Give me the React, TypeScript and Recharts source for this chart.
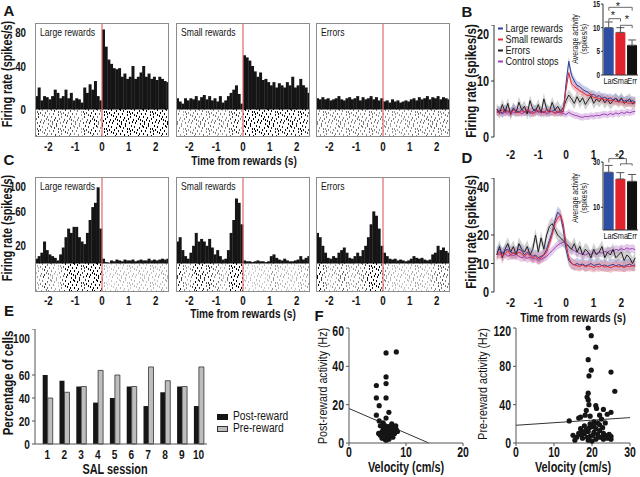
import React from "react";
import {
  Area,
  Bar,
  BarChart,
  Cell,
  ComposedChart,
  ErrorBar,
  Line,
  ReferenceLine,
  Scatter,
  ScatterChart,
  XAxis,
  YAxis,
} from "recharts";

const FONT = "'Liberation Sans Narrow', 'Arial Narrow', 'Liberation Sans', Arial, sans-serif";
const INK = "#151515";
const SQUEEZE = 0.82; // no narrow face installed, so squeeze the regular one
const SQUEEZE_BOLD = 0.75;

// ---------- A / C: peri-event histograms, 0.1 s bins from -2.5 to 2.5 s ----------
const timeTicks = [-2, -1, 0, 1, 2];
const binCentres = Array.from({ length: 50 }, (_, i) => Math.round((-2.45 + i * 0.1) * 100) / 100);

const largeA = [12, 20, 8, 12, 11, 9, 12, 18, 15, 10, 12, 18, 10, 15, 8, 10, 9, 6, 20, 15, 23, 18, 26, 12, 8,
  74, 58, 46, 42, 38, 37, 38, 30, 33, 28, 30, 40, 28, 30, 34, 40, 30, 33, 28, 30, 27, 30, 28, 26, 25];
const smallA = [10, 7, 5, 10, 8, 10, 9, 12, 8, 11, 13, 9, 12, 8, 10, 7, 12, 6, 8, 12, 15, 18, 22, 14, 5,
  50, 48, 45, 40, 35, 30, 34, 27, 28, 25, 22, 25, 20, 24, 22, 20, 25, 22, 30, 20, 22, 28, 22, 20, 15];
const errorsA = [10, 9, 11, 9, 10, 8, 9, 10, 12, 9, 8, 10, 11, 9, 10, 12, 8, 11, 9, 10, 12, 9, 11, 8, 10,
  7, 8, 6, 9, 7, 8, 6, 7, 8, 7, 9, 10, 8, 11, 9, 10, 12, 9, 11, 10, 12, 9, 11, 10, 9];

const largeC = [5, 8, 12, 25, 15, 10, 8, 6, 3, 10, 18, 30, 40, 35, 42, 42, 30, 25, 22, 35, 50, 65, 70, 88, 40,
  5, 1, 0, 3, 2, 4, 3, 2, 4, 3, 3, 4, 2, 3, 4, 3, 3, 5, 3, 4, 3, 4, 5, 4, 5];
const smallC = [25, 30, 15, 8, 5, 12, 20, 35, 25, 28, 25, 20, 28, 18, 10, 15, 8, 4, 5, 15, 35, 50, 75, 70, 45,
  3, 2, 2, 1, 2, 3, 2, 2, 1, 2, 8, 10, 6, 4, 3, 5, 3, 2, 2, 3, 4, 8, 4, 6, 8];
const errorsC = [35, 30, 20, 12, 6, 5, 8, 6, 12, 15, 18, 12, 6, 5, 8, 12, 8, 15, 20, 30, 45, 60, 55, 40, 20,
  12, 8, 5, 4, 5, 3, 4, 3, 2, 3, 5, 8, 6, 5, 6, 4, 3, 4, 10, 12, 20, 15, 18, 14, 12];

// ---------- B / D: population traces, 0.1 s steps from -2.5 to 2.5 s ----------
const traceTime = Array.from({ length: 51 }, (_, i) => Math.round((-2.5 + i * 0.1) * 10) / 10);

const largeB = [4.5, 4.8, 4.2, 5.0, 4.6, 4.3, 5.1, 4.7, 4.4, 4.9, 4.5, 4.8, 4.2, 4.6, 5.0, 4.4, 4.7, 4.3, 4.9, 4.5, 4.6, 4.8, 4.4, 4.7, 4.5,
  9.5, 13.5, 11, 10, 9.2, 9, 8.5, 8.2, 8.0, 7.5, 7.6, 7.2, 7.4, 6.9, 7.1, 6.8, 7.0, 6.6, 6.9, 6.5, 6.7, 6.4, 6.6, 6.3, 6.5, 6.2];
const smallB = [4.6, 4.3, 4.9, 4.4, 4.7, 4.2, 4.8, 4.5, 4.3, 4.7, 4.4, 4.9, 4.5, 4.2, 4.6, 4.8, 4.3, 4.6, 4.4, 4.7, 4.5, 4.3, 4.6, 4.4, 4.5,
  8.5, 11.5, 9.5, 9.0, 8.6, 8.2, 8.0, 7.6, 7.4, 7.5, 7.1, 7.0, 6.8, 6.9, 6.6, 6.7, 6.5, 6.6, 6.3, 6.4, 6.2, 6.3, 6.1, 6.0, 6.2, 6.0];
const errorsB = [5.0, 4.2, 5.8, 4.5, 6.0, 4.0, 5.2, 4.4, 6.2, 4.8, 5.5, 4.1, 6.5, 5.0, 4.6, 5.8, 4.3, 6.8, 5.0, 4.5, 6.2, 4.8, 5.5, 4.6, 5.2,
  6.5, 7.5, 6.8, 6.0, 7.2, 6.2, 7.0, 5.8, 6.6, 7.3, 6.0, 6.8, 6.3, 7.0, 6.1, 6.7, 5.9, 6.5, 6.9, 6.2, 7.0, 6.0, 6.4, 6.8, 5.9, 6.3];
const controlB = [4.3, 4.6, 4.1, 4.5, 4.2, 4.7, 4.3, 4.4, 4.6, 4.1, 4.5, 4.3, 4.7, 4.2, 4.4, 4.6, 4.3, 4.5, 4.1, 4.4, 4.6, 4.2, 4.4, 4.3, 4.2,
  4.0, 4.4, 4.1, 3.9, 3.8, 3.6, 3.5, 3.7, 3.6, 3.8, 3.7, 3.9, 3.8, 4.0, 4.1, 3.9, 4.2, 4.0, 4.3, 4.1, 4.4, 4.2, 4.5, 4.3, 4.5, 4.6];
const semB = { large: 0.8, small: 0.7, errors: 1.0, control: 0.6 };

const largeD = [14, 15, 13.5, 14.5, 15, 14, 13.5, 14, 15, 14.5, 13, 14, 13.5, 12.5, 13, 12, 12.5, 13, 15, 18, 21, 25, 28, 27, 22,
  15, 11, 10, 9.5, 10, 9.5, 9.8, 9.2, 9.5, 10, 9.3, 9.6, 9.8, 9.2, 9.5, 9.0, 9.4, 9.7, 9.2, 9.6, 9.3, 9.0, 9.5, 9.8, 9.2, 9.5];
const smallD = [13, 14, 12.5, 13.5, 14.5, 13, 13.8, 13.2, 14, 13.5, 12.5, 13.5, 12.8, 12, 12.5, 11.5, 12, 13, 14, 17, 20, 24, 26, 27, 24,
  17, 12, 10, 9.5, 9.2, 9.0, 9.5, 8.8, 9.2, 9.0, 8.6, 9.1, 8.8, 9.3, 8.7, 9.0, 8.5, 8.9, 9.2, 8.8, 9.0, 8.6, 9.1, 8.9, 9.3, 9.0];
const errorsD = [13, 16, 12, 15, 17, 14, 16, 13, 17, 15, 14, 16, 13, 15, 20, 14, 19, 15, 20, 23, 24, 22, 20, 19, 18,
  17, 16, 15, 17, 14, 16, 13, 15, 14, 12, 15, 13, 14, 16, 12, 14, 13, 15, 12, 13, 14, 11, 13, 12, 10, 12];
const controlD = [13.5, 13, 14, 13.5, 12.5, 13, 12.8, 13.2, 12.5, 12, 12.4, 11.8, 12.2, 11.5, 11.8, 11, 11.5, 12, 12.5, 13.5, 14.5, 15.5, 16.5, 17, 17.5,
  17, 16, 15, 14.5, 14, 13.5, 13.2, 13, 13.5, 13.2, 13.8, 13.5, 14, 13.6, 14.2, 14, 14.5, 14.2, 15, 14.6, 15.2, 14.8, 15.5, 15, 15.3, 14.8];
const semD = { large: 2.0, small: 1.8, errors: 2.2, control: 1.5 };

// insets: average activity with SEM
const insetNames = ["Lar", "Sma", "Err"];
const insetColors = ["#2d4ea3", "#e3232c", "#111111"];
const insetB = [10, 9, 6.3];
const insetBErr = [1.2, 1.0, 1.1];
const insetD = [25.5, 22.5, 21.5];
const insetDErr = [3.0, 2.8, 3.0];

// ---------- E ----------
const sessions = ["1", "2", "3", "4", "5", "6", "7", "8", "9", "10"];
const postReward = [60, 55, 50, 36, 40, 50, 33, 45, 50, 33];
const preReward = [40, 45, 50, 64, 60, 50, 67, 55, 50, 67];

// ---------- F ----------
const postVsVelocity = [
  [6.5, 47], [8.3, 47.5], [6.5, 34.5], [6.5, 31], [4.8, 30], [4.8, 23.5], [6.5, 23.5], [5.3, 19.5], [7.0, 16],
  [4.8, 14.5], [6.5, 13], [5.3, 11.5], [6.0, 10.5], [7.5, 10], [5.5, 9], [6, 8], [6.5, 7.5], [7, 8.5], [7.5, 9],
  [8, 8], [8.3, 7], [5.8, 6], [6.2, 5.5], [6.8, 6.5], [7.2, 6], [7.8, 6.5], [8.5, 6], [5.5, 4], [6, 3.5], [6.5, 4.5],
  [7, 4], [7.5, 5], [8, 5], [5.8, 2.5], [6.3, 2], [6.8, 3], [7.2, 3.5], [7.7, 3], [6.5, 1.5], [7, 2], [6, 6.5],
  [7.3, 7.5], [8.2, 9], [5.2, 5], [6.7, 5.5], [7.6, 4], [6.1, 4], [7.9, 7.5], [6.4, 9],
];
const preVsVelocity = [
  [19, 120], [19.8, 112], [21, 100], [19, 87], [19.8, 76], [19.2, 70], [25, 74], [26, 54], [19, 52], [18.7, 48],
  [19, 45], [19.2, 40], [18.5, 34], [21, 39], [21.2, 36], [23, 35], [25, 32], [17, 27], [18.2, 29], [19.5, 28],
  [22, 29], [24, 30], [16.5, 26], [14, 23], [20.5, 22], [22.5, 25], [23.5, 21], [15, 8], [15.5, 3], [16, 6], [17, 9],
  [17.5, 5], [18, 10], [18.5, 14], [19, 12], [19.5, 7], [20, 17], [20.5, 11], [21, 15], [21.5, 9], [22, 13],
  [22.5, 6], [23, 10], [23.5, 8], [24, 5], [25, 7], [25, 4], [19, 3], [20, 2], [21, 4], [18, 18], [19.5, 20],
  [20.5, 19], [21.5, 21], [17.5, 12], [16.5, 10], [22, 19], [24.5, 9], [23, 4], [18.8, 6], [20.2, 8], [21.8, 6],
  [19.3, 16], [22.8, 16], [17, 15],
];
const postFit = [[0, 18], [14, 0]];
const preFit = [[0, 18.5], [30, 26.5]];

// ------------------------------------------------------------------
// speckle texture that suggests the spike rasters: tick positions in one 23 x 17 px tile
const speckles = [
  [0, 1], [5, 0], [9, 3], [14, 1], [19, 2], [2, 5], [7, 6], [12, 4], [16, 7], [21, 5], [4, 9], [10, 8],
  [13, 11], [18, 10], [22, 12], [1, 13], [6, 12], [9, 14], [15, 14], [20, 15], [3, 2], [11, 0], [17, 4],
  [8, 10], [0, 8], [14, 6], [19, 8], [5, 15], [12, 13], [22, 0], [3, 11], [16, 12], [7, 3], [20, 11],
  [10, 5], [1, 15],
];

function T({ x, y, size = 14, rot = 0, bold = false, left = false, family = FONT, squeeze, children }: any) {
  const sx = squeeze ?? (bold ? SQUEEZE_BOLD : SQUEEZE);
  return (
    <div
      style={{
        position: "absolute",
        left: x,
        top: y,
        transformOrigin: left ? "0 50%" : "50% 50%",
        transform: `translate(${left ? "0" : "-50%"}, -50%) rotate(${rot}deg) scaleX(${sx})`,
        fontSize: size,
        fontFamily: family,
        fontWeight: bold ? 700 : 400,
        lineHeight: 1.05,
        whiteSpace: "nowrap",
        textAlign: "center",
        color: INK,
      }}
    >
      {children}
    </div>
  );
}

// tick renderer with a squeezed font, so the labels come out narrow like the figure
const narrowTick = (size: number, axis: "x" | "y", bold = true) => (props: any) => {
  const { x, y, payload, textAnchor } = props;
  const sx = bold ? SQUEEZE_BOLD : SQUEEZE;
  return (
    <text
      x={x}
      y={y}
      dy={axis === "x" ? "0.75em" : "0.36em"}
      textAnchor={textAnchor}
      fontSize={size}
      fontFamily={FONT}
      fontWeight={bold ? 700 : 400}
      fill={INK}
      transform={`translate(${x} ${y}) scale(${sx} 1) translate(${-x} ${-y})`}
    >
      {payload.value}
    </text>
  );
};

function Psth({ id, values, x, w, top, zero, bottom, yMax, yTicks, showY, title, rasterRef, tickGap }: any) {
  const depth = (yMax * (bottom - zero)) / (zero - top);
  const data = values.map((v: number, i: number) => ({ bin: i, t: binCentres[i], rate: v, raster: -depth }));
  const yw = showY ? 30 : 0;
  return (
    <div style={{ position: "absolute", left: x - yw, top }}>
      <BarChart
        width={yw + w}
        height={bottom - top + 22}
        data={data}
        margin={{ top: 0, right: 0, bottom: 0, left: 0 }}
        stackOffset="sign"
        barCategoryGap={0}
        barGap={0}
      >
        <defs>
          <pattern id={id} width={23} height={17} patternUnits="userSpaceOnUse">
            {speckles.map(([px, py], k) => (
              <rect key={k} x={px} y={py} width={1} height={2} fill="#000" />
            ))}
          </pattern>
        </defs>
        <XAxis xAxisId="cat" dataKey="bin" hide height={0} />
        <XAxis
          xAxisId="t"
          dataKey="t"
          type="number"
          domain={[-2.5, 2.5]}
          ticks={timeTicks}
          allowDataOverflow
          axisLine={false}
          tickLine={false}
          tickSize={3}
          tickMargin={tickGap}
          height={22}
          tick={narrowTick(13, "x")}
        />
        <YAxis
          domain={[-depth, yMax]}
          ticks={yTicks}
          allowDataOverflow
          hide={!showY}
          width={yw}
          axisLine={false}
          tickLine={false}
          tickMargin={3}
          tick={narrowTick(13, "y")}
        />
        <Bar xAxisId="cat" dataKey="rate" stackId="s" fill={INK} isAnimationActive={false} />
        <Bar xAxisId="cat" dataKey="raster" stackId="s" fill={`url(#${id})`} isAnimationActive={false}>
          {values.map((v: number, i: number) => (
            <Cell key={i} fillOpacity={Math.min(1, 0.15 + v / rasterRef)} />
          ))}
        </Bar>
        {/* invisible series that binds the time axis to the data */}
        <Line xAxisId="t" dataKey="rate" stroke="none" dot={false} activeDot={false} isAnimationActive={false} />
        <ReferenceLine xAxisId="cat" y={0} stroke="#111" strokeWidth={1} />
        <ReferenceLine xAxisId="t" x={0} stroke="#e06a6a" strokeWidth={1.2} />
      </BarChart>
      <div
        style={{
          position: "absolute",
          left: yw,
          top: 0,
          width: w,
          height: bottom - top,
          border: "1px solid #8c8c8c",
          boxSizing: "border-box",
        }}
      />
      <T x={yw + 5} y={10} size={10.5} left>
        {title}
      </T>
    </div>
  );
}

function Traces({ top, bottom, yMax, yTicks, tickGap, large, small, errors, control, sem }: any) {
  const data = traceTime.map((t, i) => ({
    t,
    large: large[i],
    small: small[i],
    errors: errors[i],
    control: control[i],
    largeBand: [large[i] - sem.large, large[i] + sem.large],
    smallBand: [small[i] - sem.small, small[i] + sem.small],
    errorsBand: [errors[i] - sem.errors, errors[i] + sem.errors],
    controlBand: [control[i] - sem.control, control[i] + sem.control],
  }));
  const yw = 26;
  return (
    <div style={{ position: "absolute", left: 494 - yw, top }}>
      <ComposedChart width={yw + 144} height={bottom - top + 30} data={data} margin={{ top: 0, right: 0, bottom: 0, left: 0 }}>
        <XAxis
          dataKey="t"
          type="number"
          domain={[-2.6, 2.6]}
          ticks={timeTicks}
          axisLine={false}
          tickLine={false}
          tickSize={4}
          tickMargin={tickGap}
          height={30}
          tick={narrowTick(13.5, "x")}
        />
        <YAxis
          domain={[0, yMax]}
          ticks={yTicks}
          width={yw}
          axisLine={{ stroke: "#333" }}
          tickLine={{ stroke: "#333" }}
          tickSize={3}
          tickMargin={2}
          tick={narrowTick(14.5, "y")}
        />
        <Area dataKey="controlBand" stroke="none" fill="#c58fd6" fillOpacity={0.45} isAnimationActive={false} />
        <Area dataKey="errorsBand" stroke="none" fill="#9a9a9a" fillOpacity={0.45} isAnimationActive={false} />
        <Area dataKey="largeBand" stroke="none" fill="#8c9ad6" fillOpacity={0.5} isAnimationActive={false} />
        <Area dataKey="smallBand" stroke="none" fill="#f08a92" fillOpacity={0.5} isAnimationActive={false} />
        <Line dataKey="control" stroke="#9b3fb3" strokeWidth={1} dot={false} isAnimationActive={false} />
        <Line dataKey="errors" stroke="#222" strokeWidth={1} dot={false} isAnimationActive={false} />
        <Line dataKey="large" stroke="#2a3f9d" strokeWidth={1} dot={false} isAnimationActive={false} />
        <Line dataKey="small" stroke="#e02b35" strokeWidth={1} dot={false} isAnimationActive={false} />
      </ComposedChart>
    </div>
  );
}

function Inset({ top, bottom, yMax, yTicks, values, errs, brackets }: any) {
  const data = insetNames.map((name, i) => ({ name, pos: i + 0.5, v: values[i], err: [0, errs[i]] }));
  const yw = 12;
  const mt = 10;
  return (
    <div style={{ position: "absolute", left: 603 - yw, top: top - mt }}>
      <BarChart
        width={yw + 35}
        height={bottom - top + mt + 11}
        data={data}
        margin={{ top: mt, right: 0, bottom: 0, left: 0 }}
        barCategoryGap="6%"
      >
        <XAxis
          dataKey="name"
          interval={0}
          axisLine={{ stroke: "#333" }}
          tickLine={false}
          tickSize={1}
          tickMargin={1}
          height={11}
          tick={narrowTick(9, "x", false)}
        />
        <XAxis xAxisId="n" dataKey="pos" type="number" domain={[0, 3]} hide height={0} />
        <YAxis
          domain={[0, yMax]}
          ticks={yTicks}
          width={yw}
          axisLine={{ stroke: "#333" }}
          tickLine={{ stroke: "#333" }}
          tickSize={2}
          tickMargin={1}
          tick={narrowTick(8.5, "y")}
        />
        <Bar dataKey="v" isAnimationActive={false}>
          {data.map((d, i) => (
            <Cell key={d.name} fill={insetColors[i]} />
          ))}
          <ErrorBar dataKey="err" width={4} stroke="#555" strokeWidth={1} />
        </Bar>
        <Line xAxisId="n" dataKey="v" stroke="none" dot={false} activeDot={false} isAnimationActive={false} />
        {brackets.map((b: number[][], i: number) => (
          <ReferenceLine
            key={i}
            xAxisId="n"
            segment={[{ x: b[0][0], y: b[0][1] }, { x: b[1][0], y: b[1][1] }]}
            stroke="#444"
            strokeWidth={0.8}
            ifOverflow="visible"
          />
        ))}
      </BarChart>
    </div>
  );
}

// bracket segments in inset coordinates (category centres at 0.5, 1.5, 2.5)
const bracketsB = [
  [[0.5, 14.3], [2.5, 14.3]], [[0.5, 14.3], [0.5, 13.6]], [[2.5, 14.3], [2.5, 13.6]],
  [[0.5, 11.9], [1.5, 11.9]], [[0.5, 11.9], [0.5, 11.3]], [[1.5, 11.9], [1.5, 11.3]],
  [[1.5, 10.5], [2.5, 10.5]], [[1.5, 10.5], [1.5, 9.9]], [[2.5, 10.5], [2.5, 9.9]],
];
const bracketsD = [
  [[0.5, 31.5], [2.0, 31.5]], [[0.5, 31.5], [0.5, 29.8]], [[2.0, 31.5], [2.0, 29.2]],
  [[1.5, 29.2], [2.5, 29.2]], [[1.5, 29.2], [1.5, 28.4]], [[2.5, 29.2], [2.5, 28.4]],
];

function SessionBars() {
  const data = sessions.map((s, i) => ({ s, post: postReward[i], pre: preReward[i] }));
  return (
    <div style={{ position: "absolute", left: 0, top: 329 }}>
      <BarChart width={207} height={115 + 22} data={data} margin={{ top: 0, right: 0, bottom: 0, left: 0 }} barCategoryGap="22%" barGap={0}>
        <XAxis
          dataKey="s"
          interval={0}
          padding={{ left: 4, right: 0 }}
          axisLine={{ stroke: "#555" }}
          tickLine={false}
          tickSize={3}
          tickMargin={2}
          height={22}
          tick={narrowTick(13.5, "x")}
        />
        <YAxis
          domain={[0, 100]}
          ticks={[0, 20, 40, 60, 80, 100]}
          width={35}
          axisLine={{ stroke: "#555" }}
          tickLine={{ stroke: "#555" }}
          tickSize={3}
          tickMargin={2}
          tick={narrowTick(13.5, "y")}
        />
        <Bar dataKey="post" fill={INK} isAnimationActive={false} />
        <Bar dataKey="pre" fill="#bdbdbd" stroke="#333" strokeWidth={0.8} isAnimationActive={false} />
      </BarChart>
    </div>
  );
}

function Dots({ left, yw, xMax, xTicks, yMax, yTicks, points, fit }: any) {
  const data = points.map((p: number[]) => ({ x: p[0], y: p[1] }));
  return (
    <div style={{ position: "absolute", left: left - yw, top: 328 - 6 }}>
      <ScatterChart width={yw + 114 + 8} height={115 + 6 + 22} margin={{ top: 6, right: 8, bottom: 0, left: 0 }}>
        <XAxis
          dataKey="x"
          type="number"
          domain={[0, xMax]}
          ticks={xTicks}
          axisLine={{ stroke: "#555" }}
          tickLine={{ stroke: "#555" }}
          tickSize={3}
          tickMargin={1}
          height={22}
          tick={narrowTick(14, "x")}
        />
        <YAxis
          dataKey="y"
          type="number"
          domain={[0, yMax]}
          ticks={yTicks}
          width={yw}
          axisLine={{ stroke: "#555" }}
          tickLine={{ stroke: "#555" }}
          tickSize={3}
          tickMargin={2}
          tick={narrowTick(14, "y")}
        />
        <ReferenceLine
          segment={[{ x: fit[0][0], y: fit[0][1] }, { x: fit[1][0], y: fit[1][1] }]}
          stroke="#333"
          strokeWidth={1}
          ifOverflow="visible"
        />
        <Scatter
          data={data}
          isAnimationActive={false}
          shape={(p: any) => <circle cx={p.cx} cy={p.cy} r={2.6} fill={INK} />}
        />
      </ScatterChart>
    </div>
  );
}

const legendB = [
  ["Large rewards", "#2a3f9d"],
  ["Small rewards", "#e02b35"],
  ["Errors", "#222"],
  ["Control stops", "#9b3fb3"],
];

export default function App() {
  const boxX = [35, 176, 316];
  const letter = "'Liberation Sans', Arial, sans-serif";
  return (
    <div style={{ position: "absolute", left: 0, top: 0, width: 640, height: 477, background: "#fff", overflow: "hidden" }}>
      {/* A */}
      <T x={9} y={11} size={15} bold family={letter} squeeze={1}>A</T>
      <T x={8} y={74} size={14.5} bold rot={-90}>Firing rate (spikes/s)</T>
      {[largeA, smallA, errorsA].map((vals, i) => (
        <Psth
          key={"a" + i}
          id={"rasA" + i}
          values={vals}
          x={boxX[i]}
          w={134}
          top={23}
          zero={109}
          bottom={137}
          yMax={80}
          yTicks={[0, 20, 40, 60, 80]}
          showY={i === 0}
          title={["Large rewards", "Small rewards", "Errors"][i]}
          rasterRef={30}
          tickGap={1}
        />
      ))}
      <T x={244} y={161} size={13.5} bold>Time from rewards (s)</T>

      {/* C */}
      <T x={9} y={160} size={15} bold family={letter} squeeze={1}>C</T>
      <T x={8} y={228} size={14.5} bold rot={-90}>Firing rate (spikes/s)</T>
      {[largeC, smallC, errorsC].map((vals, i) => (
        <Psth
          key={"c" + i}
          id={"rasC" + i}
          values={vals}
          x={boxX[i]}
          w={134}
          top={177}
          zero={263}
          bottom={292}
          yMax={100}
          yTicks={[0, 20, 40, 60, 80, 100]}
          showY={i === 0}
          title={["Large rewards", "Small rewards", "Errors"][i]}
          rasterRef={40}
          tickGap={0}
        />
      ))}
      <T x={243} y={314} size={13.5} bold>Time from rewards (s)</T>

      {/* B */}
      <T x={467} y={12} size={15} bold family={letter} squeeze={1}>B</T>
      <T x={471} y={81} size={15.5} bold rot={-90}>Firing rate (spikes/s)</T>
      <Traces top={25} bottom={137} yMax={20} yTicks={[0, 10, 20]} tickGap={8} large={largeB} small={smallB} errors={errorsB} control={controlB} sem={semB} />
      {legendB.map(([label, color], i) => (
        <div
          key={label}
          style={{
            position: "absolute",
            left: 498,
            top: 28 + i * 11,
            transformOrigin: "0 50%",
            transform: `translateY(-50%) scaleX(${SQUEEZE})`,
            fontFamily: FONT,
            fontSize: 11,
            lineHeight: 1,
            whiteSpace: "nowrap",
            color: INK,
          }}
        >
          <span style={{ display: "inline-block", width: 6, height: 2, background: color, verticalAlign: "middle", marginRight: 3 }} />
          {label}
        </div>
      ))}
      <Inset top={4} bottom={75} yMax={15} yTicks={[0, 5, 10, 15]} values={insetB} errs={insetBErr} brackets={bracketsB} />
      <T x={580} y={39} size={8.6} rot={-90}>Average activity<br />(spikes/s)</T>
      <T x={618} y={7} size={11} squeeze={1}>*</T>
      <T x={613} y={16} size={11} squeeze={1}>*</T>
      <T x={627} y={20} size={11} squeeze={1}>*</T>

      {/* D */}
      <T x={467} y={158} size={15} bold family={letter} squeeze={1}>D</T>
      <T x={471} y={232} size={15.5} bold rot={-90}>Firing rate (spikes/s)</T>
      <Traces top={178} bottom={292} yMax={40} yTicks={[0, 10, 20, 30, 40]} tickGap={1} large={largeD} small={smallD} errors={errorsD} control={controlD} sem={semD} />
      <Inset top={162} bottom={230} yMax={30} yTicks={[0, 10, 20, 30]} values={insetD} errs={insetDErr} brackets={bracketsD} />
      <T x={580} y={198} size={8.6} rot={-90}>Average activity<br />(spikes/s)</T>
      <T x={617} y={158} size={11} squeeze={1}>*</T>
      <T x={573} y={318} size={13.5} bold>Time from rewards (s)</T>

      {/* E */}
      <T x={9} y={311} size={15} bold family={letter} squeeze={1}>E</T>
      <T x={8} y={383} size={15.3} bold rot={-90}>Percentage of cells</T>
      <SessionBars />
      <T x={115} y={470} size={14.5} bold>SAL session</T>
      <div style={{ position: "absolute", left: 217, top: 414, width: 11, height: 6, background: INK }} />
      <T x={233} y={417} size={12.5} left>Post-reward</T>
      <div style={{ position: "absolute", left: 217, top: 426, width: 11, height: 6, background: "#bdbdbd", border: "1px solid #333", boxSizing: "border-box" }} />
      <T x={233} y={429} size={12.5} left>Pre-reward</T>

      {/* F */}
      <T x={319} y={316} size={15} bold family={letter} squeeze={1}>F</T>
      <T x={323} y={386} size={13} rot={-90}>Post-reward activity (Hz)</T>
      <Dots left={349} yw={24} xMax={20} xTicks={[0, 10, 20]} yMax={60} yTicks={[0, 10, 20, 30, 40, 50, 60]} points={postVsVelocity} fit={postFit} />
      <T x={406} y={468} size={14.5} bold>Velocity (cm/s)</T>
      <T x={483} y={384} size={13} rot={-90}>Pre-reward activity (Hz)</T>
      <Dots left={516} yw={28} xMax={30} xTicks={[0, 10, 20, 30]} yMax={120} yTicks={[0, 20, 40, 60, 80, 100, 120]} points={preVsVelocity} fit={preFit} />
      <T x={573} y={468} size={14.5} bold>Velocity (cm/s)</T>
    </div>
  );
}
